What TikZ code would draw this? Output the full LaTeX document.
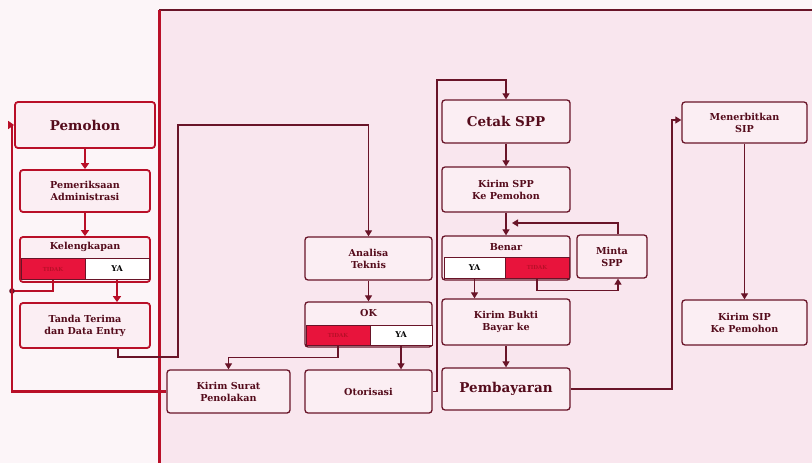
\documentclass[tikz,border=0pt]{standalone}
\usepackage{fontspec}
\setmainfont{DejaVu Serif}
\usetikzlibrary{arrows.meta,calc}
\definecolor{bg}{RGB}{252,245,248}
\definecolor{panel}{RGB}{249,230,238}
\definecolor{boxfill}{RGB}{251,238,243}
\definecolor{edge}{RGB}{105,20,40}
\definecolor{redf}{RGB}{232,20,60}
\definecolor{lred}{RGB}{185,15,40}
\definecolor{txt}{RGB}{85,12,28}
\begin{document}
\begin{tikzpicture}[x=1pt,y=-1pt,
  box/.style={draw=edge, fill=boxfill, rounded corners=3pt, line width=1.3pt, align=center,
    text=txt, font=\bfseries\fontsize{9.6}{12}\selectfont, inner sep=0pt},
  lbox/.style={box, draw=lred, line width=1.8pt},
  bigtxt/.style={font=\bfseries\fontsize{13.5}{15}\selectfont},
  title/.style={text=txt, font=\bfseries\fontsize{9.6}{11}\selectfont, inner sep=0pt},
  nocell/.style={fill=redf, draw=edge, line width=0.6pt, inner sep=0pt, text=lred,
    font=\bfseries\fontsize{5.5}{6}\selectfont},
  yacell/.style={fill=white, draw=edge, line width=0.6pt, inner sep=0pt, text=black,
    font=\bfseries\fontsize{8}{9}\selectfont},
  conn/.style={draw=edge, line width=1.2pt},
  arr/.style={conn, -{Triangle[length=6pt,width=7pt]}},
  lconn/.style={draw=lred, line width=2.4pt},
  larr/.style={lconn, -{Triangle[length=6pt,width=8pt]}}]
\useasboundingbox (0,0) rectangle (812,463);
\fill[bg] (0,0) rectangle (812,463);
% panel
\fill[panel] (160,10) rectangle (812,463);
\draw[edge, line width=1.8pt] (159,10) -- (812,10);
\draw[lred, line width=3pt] (159,9.5) -- (159,463);

% left column
\node[lbox, bigtxt, minimum width=140, minimum height=46] (pem) at (85,125) {Pemohon};
\node[lbox, minimum width=130, minimum height=42] (adm) at (85,191) {Pemeriksaan\\Administrasi};
\node[lbox, minimum width=130, minimum height=45] (kel) at (85,259.5) {};
\node[title] (kelt) at (85,247) {Kelengkapan};
\node[nocell, minimum width=64, minimum height=21] (kelno) at (53,269) {TIDAK};
\node[yacell, minimum width=64, minimum height=21] (kelya) at (117,269) {YA};
\node[lbox, minimum width=130, minimum height=45] (tt) at (85,325.5) {Tanda Terima\\dan Data Entry};

% middle column
\node[box, minimum width=127, minimum height=43] (ana) at (368.5,258.5) {Analisa\\Teknis};
\node[box, minimum width=127, minimum height=45] (ok) at (368.5,324.5) {};
\node[title] (okt) at (368.5,313) {OK};
\node[nocell, minimum width=64, minimum height=20] (okno) at (338,335) {TIDAK};
\node[yacell, minimum width=62, minimum height=20] (okya) at (401,335) {YA};
\node[box, minimum width=123, minimum height=43] (krm) at (228.5,391.5) {Kirim Surat\\Penolakan};
\node[box, minimum width=127, minimum height=43] (oto) at (368.5,391.5) {Otorisasi};

% right-middle column
\node[box, bigtxt, minimum width=128, minimum height=43] (cet) at (506,121.5) {Cetak SPP};
\node[box, minimum width=128, minimum height=45] (kspp) at (506,189.5) {Kirim SPP\\Ke Pemohon};
\node[box, minimum width=128, minimum height=44] (ben) at (506,258) {};
\node[title] (bent) at (506,247) {Benar};
\node[yacell, minimum width=61, minimum height=21] (benya) at (474.5,267.5) {YA};
\node[nocell, minimum width=64, minimum height=21] (benno) at (537,267.5) {TIDAK};
\node[box, minimum width=70, minimum height=43] (min) at (612,256.5) {Minta\\SPP};
\node[box, minimum width=128, minimum height=46] (kbb) at (506,322) {Kirim Bukti\\Bayar ke};
\node[box, bigtxt, minimum width=128, minimum height=42] (pay) at (506,389) {Pembayaran};

% right column
\node[box, minimum width=125, minimum height=41] (men) at (744.5,122.5) {Menerbitkan\\SIP};
\node[box, minimum width=125, minimum height=45] (ksip) at (744.5,322.5) {Kirim SIP\\Ke Pemohon};

% coordinates
\coordinate (lp) at (12,390);
\coordinate (j1) at (12,291);
\coordinate (t0) at (160,357);
\coordinate (t1) at (178,357);
\coordinate (t2) at (178,125);
\coordinate (o1) at (437,80);
\coordinate (m1) at (512,223);
\coordinate (p1) at (672,120);

% left connectors
\draw[larr] (pem) -- (adm);
\draw[larr] (adm) -- (kel);
\draw[larr] (kelya.south) -- (kelya.south |- tt.north);
\draw[lconn] (kelno.south) |- (j1);
\fill[edge] (j1) circle (2.8pt);
\draw[larr] (krm.west) -- (krm.west -| lp) -- (lp |- pem.west) -- (pem.west);

% tanda terima -> analisa
\draw[conn, line width=1.5pt] ($(tt.south)+(33,0)$) |- (t0);
\draw[arr] (t0) -- (t1) -- (t2) -- (t2 -| ana.north) -- (ana.north);

% middle connectors
\draw[arr] (ana) -- (ok);
\draw[arr] (okno.south) |- ($(krm.north)+(0,-12)$) -- (krm.north);
\draw[arr] (okya.south) -- (okya.south |- oto.north);
\draw[arr] (oto.east) -| (o1) -| (cet.north);

% right-middle connectors
\draw[arr] (cet) -- (kspp);
\draw[arr] (kspp) -- (ben);
\draw[arr] ($(min.north)+(6,0)$) |- (m1);
\draw[arr] (benno.south) |- ($(min.south)+(6,12)$) -- ($(min.south)+(6,0)$);
\draw[arr] (benya.south) -- (benya.south |- kbb.north);
\draw[arr] (kbb) -- (pay);
\draw[arr] (pay.east) -| (p1) -- (men.west |- p1);

% right connectors
\draw[arr] (men) -- (ksip);
\end{tikzpicture}
\end{document}
